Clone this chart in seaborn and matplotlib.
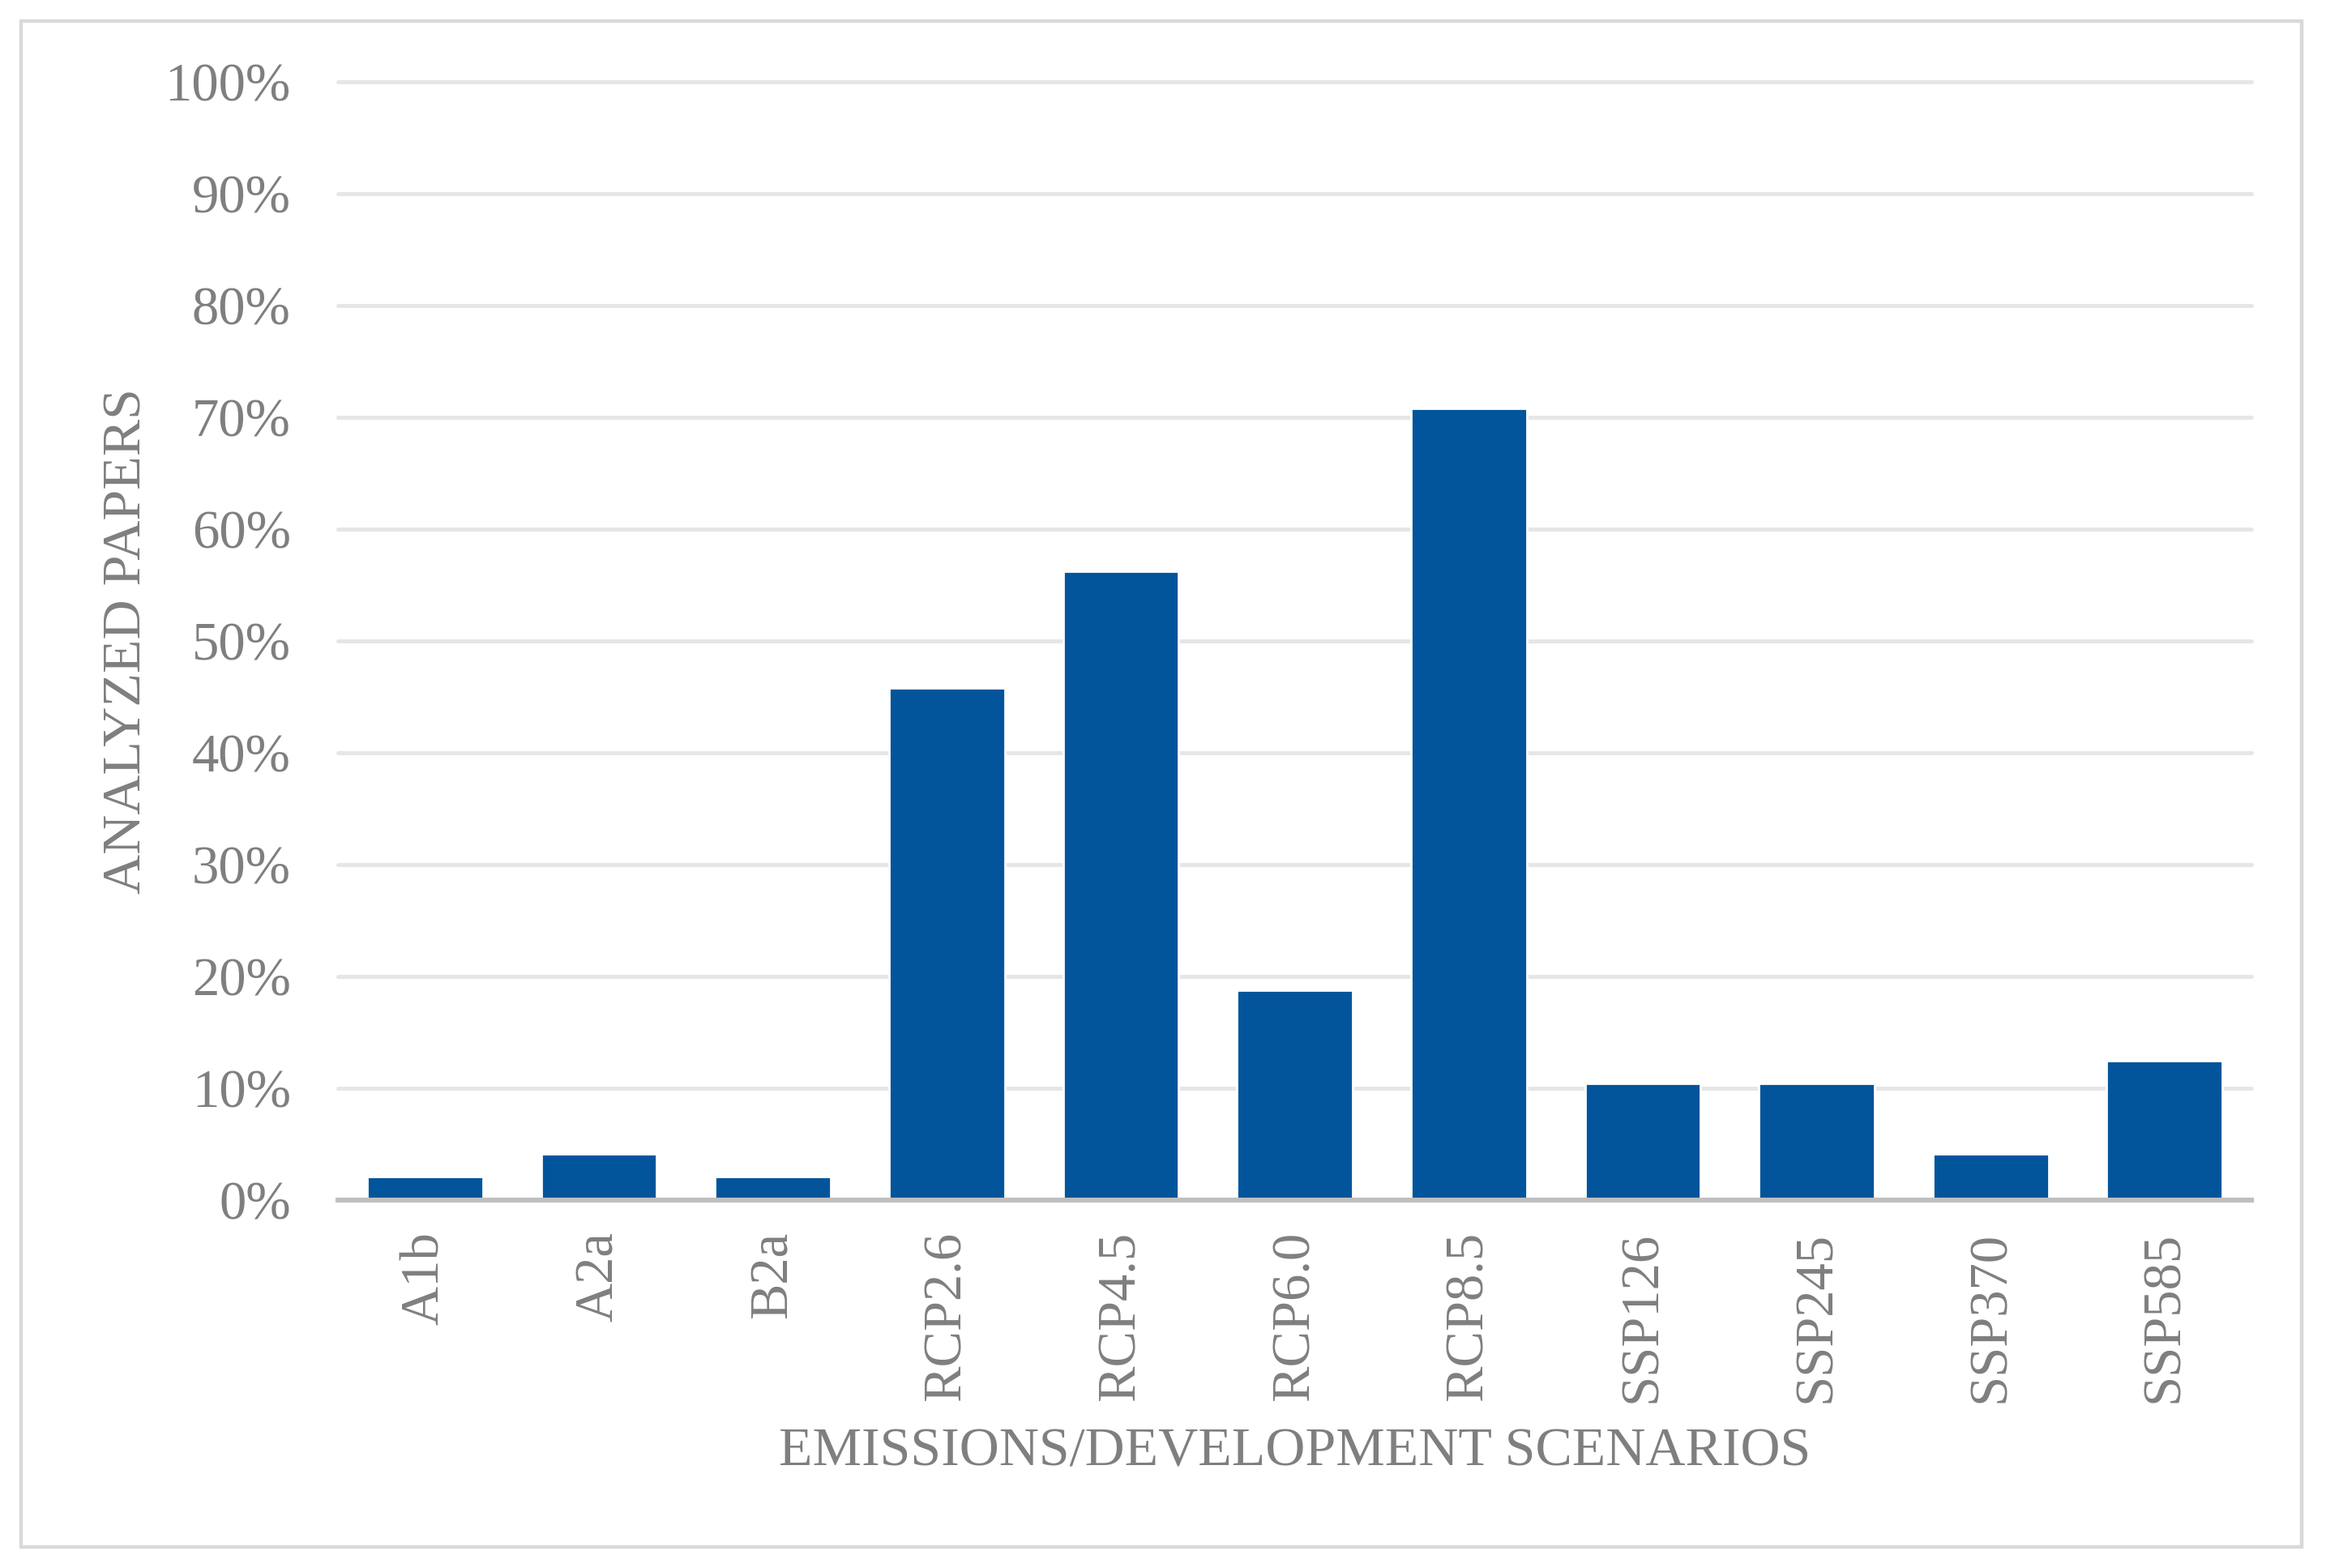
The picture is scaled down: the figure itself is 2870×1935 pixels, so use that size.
import pandas as pd
import seaborn as sns
import matplotlib.pyplot as plt
from matplotlib.patches import Rectangle
from matplotlib.ticker import FuncFormatter, MultipleLocator

# --- Data ---
scenarios = ["A1b", "A2a", "B2a", "RCP2.6", "RCP4.5", "RCP6.0", "RCP8.5",
             "SSP126", "SSP245", "SSP370", "SSP585"]
share_pct = [2.08, 4.17, 2.08, 45.83, 56.25, 18.75, 70.83,
             10.42, 10.42, 4.17, 12.50]

df = pd.DataFrame({"scenario": scenarios, "share": share_pct})

# --- Style ---
sns.set_theme(style="white")
plt.rcParams["font.family"] = ["Liberation Serif", "DejaVu Serif"]
grey = "#7f7f7f"

fig = plt.figure(figsize=(14.35, 9.675), dpi=200)
ax = fig.add_axes([0.1453, 0.2346, 0.8227, 0.7132])

sns.barplot(data=df, x="scenario", y="share", color="#02559b",
            saturation=1, width=0.665, ax=ax, zorder=3)

ax.set_xlim(-0.5, len(scenarios) - 0.5)
ax.set_ylim(0, 100)
ax.yaxis.set_major_locator(MultipleLocator(10))
ax.yaxis.set_major_formatter(FuncFormatter(lambda v, p: f"{v:.0f}%"))

ax.grid(axis="y", color="#e6e6e6", linewidth=1.8, zorder=0)
for gl in ax.get_ygridlines():
    gl.set_clip_on(False)

for side in ["top", "right", "left"]:
    ax.spines[side].set_visible(False)
ax.spines["bottom"].set_color("#bfbfbf")
ax.spines["bottom"].set_linewidth(2.2)
ax.spines["bottom"].set_zorder(4)

ax.tick_params(axis="y", length=0, pad=21, labelsize=24, labelcolor=grey)
ax.tick_params(axis="x", length=0, pad=14, labelsize=24, labelcolor=grey,
               labelrotation=90)

ax.set_xlabel("EMISSIONS/DEVELOPMENT SCENARIOS", fontsize=24.5, color=grey)
ax.set_ylabel("ANALYZED PAPERS", fontsize=24.5, color=grey)
ax.xaxis.set_label_coords(0.5, -0.203)
ax.yaxis.set_label_coords(-0.097, 0.5)

# outer chart border
fig.patches.append(Rectangle((26 / 2870, 26 / 1935), (2840 - 26) / 2870,
                             (1909 - 26) / 1935, transform=fig.transFigure,
                             fill=False, edgecolor="#d9d9d9", linewidth=1.6))

fig.savefig("out.png", dpi=200, facecolor="white")
